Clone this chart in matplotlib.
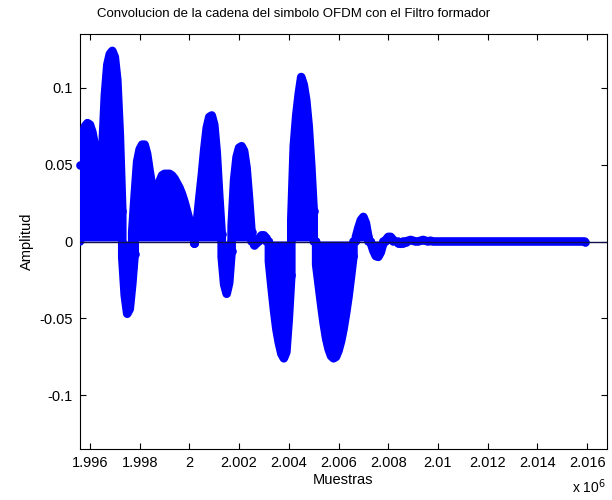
import numpy as np
import matplotlib
matplotlib.use("Agg")
import matplotlib.pyplot as plt

nan = np.nan

# === Datos: envolvente de la senal convolucionada (muestreada cada 100 muestras) ===
muestras = np.arange(1995600, 2016000, 100)

# valores positivos de la senal en cada muestra (nan = sin valor positivo)
amp_sup = [
    0.050, 0.068, 0.075, 0.077, 0.076, 0.071, 0.062, 0.050, 0.052, 0.060,
    0.095, 0.115, 0.122, 0.124, 0.120, 0.105, 0.070, 0.020, nan, nan,
    nan, 0.006, 0.030, 0.052, 0.060, 0.063, 0.063, 0.057, 0.046, 0.036,
    0.029, 0.033, 0.039, 0.043, 0.044, 0.044, 0.044, 0.043, 0.041, 0.038,
    0.035, 0.031, 0.026, 0.020, 0.014, 0.006, 0.002, 0.012, 0.028, 0.043,
    0.060, 0.074, 0.081, 0.082, 0.076, 0.058, 0.030, 0.005, nan, nan,
    nan, 0.010, 0.040, 0.055, 0.061, 0.062, 0.059, 0.048, 0.028, 0.006,
    nan, nan, 0.002, 0.004, 0.004, 0.002, nan, nan, nan, nan,
    nan, nan, nan, nan, nan, 0.014, 0.062, 0.082, 0.096, 0.107,
    0.102, 0.092, 0.075, 0.050, 0.020, nan, nan, nan, nan, nan,
    nan, nan, nan, nan, nan, nan, nan, nan, nan, nan,
    nan, 0.003, 0.009, 0.014, 0.016, 0.012, 0.003, nan, nan, nan,
    nan, nan, nan, 0.001, 0.003, 0.003, 0.001, nan, nan, nan,
    nan, 0.0, 0.0005, 0.001, 0.0005, 0.0, 0.0, 0.0005, 0.001, 0.0005,
    0.0, 0.0005, 0.0, 0.0, 0.0, 0.0, 0.0, 0.0, 0.0, 0.0,
    0.0, 0.0, 0.0, 0.0, 0.0, 0.0, 0.0, 0.0, 0.0, 0.0,
    0.0, 0.0, 0.0, 0.0, 0.0, 0.0, 0.0, 0.0, 0.0, 0.0,
    0.0, 0.0, 0.0, 0.0, 0.0, 0.0, 0.0, 0.0, 0.0, 0.0,
    0.0, 0.0, 0.0, 0.0, 0.0, 0.0, 0.0, 0.0, 0.0, 0.0,
    0.0, 0.0, 0.0, 0.0, 0.0, 0.0, 0.0, 0.0, 0.0, 0.0,
    0.0, 0.0, 0.0, 0.0,
]

# valores negativos (solo hasta donde la senal deja de oscilar)
amp_inf = [
    nan, nan, nan, nan, nan, nan, nan, nan, nan, nan,
    nan, nan, nan, nan, nan, nan, nan, -0.010, -0.035, -0.047,
    -0.044, -0.028, -0.008, nan, nan, nan, nan, nan, nan, nan,
    nan, nan, nan, nan, nan, nan, nan, nan, nan, nan,
    nan, nan, nan, nan, nan, nan, -0.001, nan, nan, nan,
    nan, nan, nan, nan, nan, nan, nan, -0.010, -0.028, -0.034,
    -0.027, -0.006, nan, nan, nan, nan, nan, nan, nan, nan,
    -0.002, -0.001, nan, nan, nan, nan, -0.013, -0.029, -0.044, -0.057,
    -0.066, -0.073, -0.076, -0.072, -0.050, -0.022, nan, nan, nan, nan,
    nan, nan, nan, nan, nan, -0.015, -0.028, -0.041, -0.053, -0.063,
    -0.070, -0.0745, -0.076, -0.075, -0.071, -0.065, -0.057, -0.047, -0.036, -0.023,
    -0.0095, nan, nan, nan, nan, nan, nan, -0.001, -0.006, -0.0095,
    -0.010, -0.007, -0.001, nan, nan, nan, nan, nan, -0.001, -0.0015,
    -0.001,
]

xticks = [1996000, 1998000, 2000000, 2002000, 2004000, 2006000,
          2008000, 2010000, 2012000, 2014000, 2016000]
yticks = [-0.1, -0.05, 0, 0.05, 0.1]

plt.rcParams['font.family'] = ['Liberation Sans', 'DejaVu Sans']

fig = plt.figure(figsize=(6.12, 5.0), dpi=100)
ax = fig.add_axes([80 / 612, 51 / 500, 527 / 612, 415 / 500])


def tallos(x, y):
    # stems muy densos: relleno hasta cero + contorno grueso (marcadores 'o')
    x = np.asarray(x, dtype=float)
    y = np.asarray(y, dtype=float)
    ok = ~np.isnan(y)
    ax.fill_between(x, 0, y, where=ok, color='b', lw=0, zorder=2)
    # cada tramo continuo se cierra con los stems de sus extremos
    idx = np.flatnonzero(ok)
    tramos = np.split(idx, np.flatnonzero(np.diff(idx) > 1) + 1)
    for t in tramos:
        xs = np.r_[x[t[0]], x[t], x[t[-1]]]
        ys = np.r_[0.0, y[t], 0.0]
        ax.plot(xs, ys, color='b', lw=6.2, solid_capstyle='round',
                solid_joinstyle='round', zorder=3)
        # marcadores de los extremos (pueden salir del eje, como en stem)
        ax.plot(x[[t[0], t[-1]]], y[[t[0], t[-1]]], 'o', ms=6.2, mfc='b',
                mec='b', mew=0, clip_on=False, zorder=3)


tallos(muestras, amp_sup)
tallos(muestras[:len(amp_inf)], amp_inf)

# linea base del stem
ax.axhline(0, color='#10104a', lw=1.0, zorder=4)

ax.set_xlim(1995600, 2016800)
ax.set_ylim(-0.135, 0.135)
ax.set_xticks(xticks)
ax.set_xticklabels(['%g' % (v / 1e6) for v in xticks])
ax.set_yticks(yticks)
ax.set_yticklabels(['%g' % v for v in yticks])
ax.tick_params(direction='in', length=4, width=0.8, top=True, right=True,
               labelsize=10.5, pad=5)
for s in ax.spines.values():
    s.set_linewidth(0.8)

ax.set_xlabel('Muestras', fontsize=10.5, labelpad=2)
ax.set_ylabel('Amplitud', fontsize=10.5, labelpad=4)
fig.text(294 / 612, 1 - 14 / 500, 'Convolucion de la cadena del simbolo OFDM con el Filtro formador',
         ha='center', va='center', fontsize=9.5)
fig.text(572 / 612, 1 - 493 / 500, r'x 10$^{6}$', ha='left', va='baseline', fontsize=10)

fig.savefig('out.png', dpi=100)
